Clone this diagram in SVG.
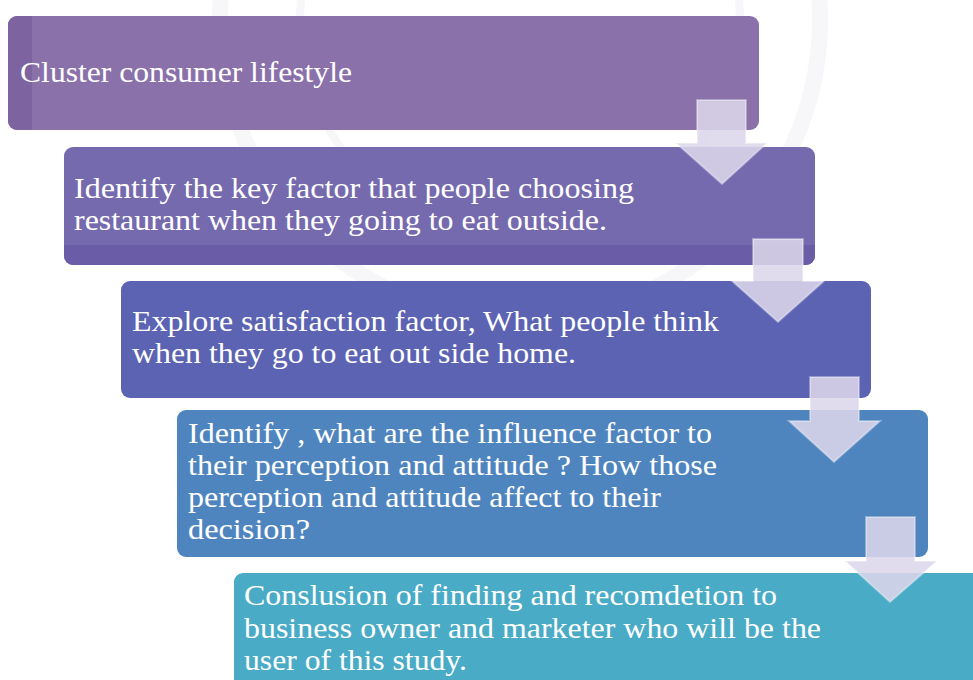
<svg xmlns="http://www.w3.org/2000/svg" width="973" height="680" viewBox="0 0 973 680">
  <style>
    .lbl { font-family: "Liberation Serif", "DejaVu Serif", serif; font-size: 30px; fill: #ffffff; }
    .arrow { fill: #dcd6ea; fill-opacity: 0.88; stroke: #ffffff; stroke-opacity: 0.35; stroke-width: 2; }
    .seal { fill: none; stroke: #f7f6f9; }
  </style>
  <rect width="973" height="680" fill="#ffffff"/>

  <!-- faint seal in the background -->
  <g id="seal">
    <circle class="seal" cx="520" cy="20" r="300" stroke-width="16"/>
    <circle class="seal" cx="520" cy="20" r="220" stroke-width="8"/>
  </g>

  <!-- step 1 -->
  <g id="step1">
    <rect x="8" y="16" width="751" height="114" rx="9" fill="#8a71aa"/>
    <path d="M17 16 H32 V130 H17 A9 9 0 0 1 8 121 V25 A9 9 0 0 1 17 16 Z" fill="#7d63a0"/>
    <text class="lbl" x="20" y="82" textLength="332" lengthAdjust="spacingAndGlyphs">Cluster consumer lifestyle</text>
  </g>

  <!-- step 2 -->
  <g id="step2">
    <rect x="64" y="147" width="751" height="118" rx="9" fill="#766aaf"/>
    <path d="M64 245 H815 V256 A9 9 0 0 1 806 265 H73 A9 9 0 0 1 64 256 Z" fill="#6a5ca6"/>
    <text class="lbl" x="74" y="198" textLength="560" lengthAdjust="spacingAndGlyphs">Identify the key factor that people choosing</text>
    <text class="lbl" x="74" y="230" textLength="533" lengthAdjust="spacingAndGlyphs">restaurant when they going to eat outside.</text>
  </g>

  <!-- step 3 -->
  <g id="step3">
    <rect x="121" y="281" width="750" height="117" rx="9" fill="#5b63b2"/>
    <text class="lbl" x="132" y="331" textLength="587" lengthAdjust="spacingAndGlyphs">Explore satisfaction factor, What people think</text>
    <text class="lbl" x="132" y="363" textLength="444" lengthAdjust="spacingAndGlyphs">when they go to eat out side home.</text>
  </g>

  <!-- step 4 -->
  <g id="step4">
    <rect x="177" y="410" width="751" height="147" rx="9" fill="#4f85bf"/>
    <text class="lbl" x="188" y="443" textLength="524" lengthAdjust="spacingAndGlyphs">Identify , what are the influence factor to</text>
    <text class="lbl" x="188" y="475" textLength="529" lengthAdjust="spacingAndGlyphs">their perception and attitude ? How those</text>
    <text class="lbl" x="188" y="507" textLength="473" lengthAdjust="spacingAndGlyphs">perception and attitude affect to their</text>
    <text class="lbl" x="188" y="539" textLength="122" lengthAdjust="spacingAndGlyphs">decision?</text>
  </g>

  <!-- step 5 -->
  <g id="step5">
    <rect x="234" y="573" width="760" height="130" rx="9" fill="#4aabc6"/>
    <text class="lbl" x="244" y="605" textLength="533" lengthAdjust="spacingAndGlyphs">Conslusion of finding and recomdetion to</text>
    <text class="lbl" x="244" y="638" textLength="577" lengthAdjust="spacingAndGlyphs">business owner and marketer who will be the</text>
    <text class="lbl" x="244" y="670" textLength="223" lengthAdjust="spacingAndGlyphs">user of this study.</text>
  </g>

  <!-- down arrows between steps -->
  <g id="connectors">
    <polygon class="arrow" points="697,100 746,100 746,143 767,143 722,184 676,143 697,143"/>
    <polygon class="arrow" points="753,239 803,239 803,281 824,281 778,322 732,281 753,281"/>
    <polygon class="arrow" points="810,377 859,377 859,421 880,421 834,462 789,421 810,421"/>
    <polygon class="arrow" points="866,517 915,517 915,561 937,561 890,602 845,561 866,561"/>
  </g>
</svg>
